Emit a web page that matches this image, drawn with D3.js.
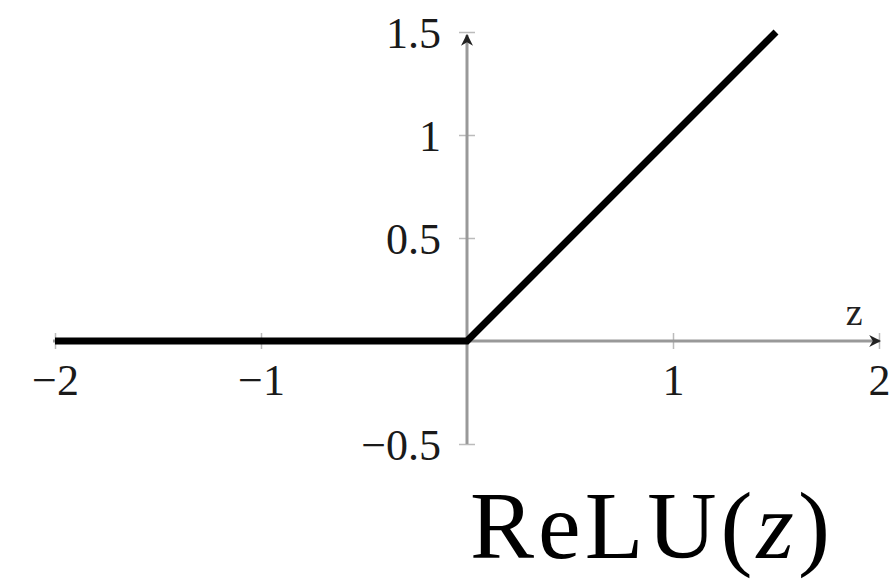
<!DOCTYPE html>
<html>
<head>
<meta charset="utf-8">
<script src="https://cdn.jsdelivr.net/npm/d3@7"></script>
<style>
  body { margin: 0; background: #fff; }
  svg { display: block; }
</style>
</head>
<body>
<svg width="896" height="580"></svg>
<script>
// values
let xTicks = [-2, -1, 1, 2]
let yTicks = [-0.5, 0.5, 1, 1.5]
let reluZ = [-2, 0, 1.5]
let reluY = [0, 0, 1.5]

let width = 896
let height = 580

let xScale = d3.scaleLinear()
  .domain([-2, 2])
  .range([55, 879])

let yScale = d3.scaleLinear()
  .domain([-0.5, 1.5])
  .range([444, 32])

let svg = d3.select('svg')
let fmt = d3.format('')

// arrow head
svg.append('defs').append('marker')
  .attr('id', 'arrow')
  .attr('viewBox', '0 0 10 10')
  .attr('refX', 9)
  .attr('refY', 5)
  .attr('markerWidth', 4)
  .attr('markerHeight', 4)
  .attr('markerUnits', 'strokeWidth')
  .attr('orient', 'auto')
  .append('path')
  .attr('d', 'M0,0 L10,5 L0,10 L3,5 Z')
  .attr('fill', '#222')

// x axis
let xAxis = d3.axisBottom(xScale)
  .tickValues(xTicks)
  .tickFormat(fmt)

let gx = svg.append('g')
  .attr('transform', 'translate(' + [0, yScale(0)] + ')')
  .call(xAxis)
gx.select('.domain').remove()
gx.selectAll('.tick line')
  .attr('y1', -8).attr('y2', 8)
  .attr('stroke', '#bbb').attr('stroke-width', 1.5)
gx.selectAll('.tick text')
  .attr('y', 54).attr('dy', 0)
  .attr('font-family', '"Liberation Serif", serif')
  .attr('font-size', 44)
  .attr('fill', '#1a1a1a')

svg.append('line')
  .attr('x1', xScale(-2) - 2).attr('x2', xScale(2) + 1)
  .attr('y1', yScale(0)).attr('y2', yScale(0))
  .attr('stroke', '#999').attr('stroke-width', 3)
  .attr('marker-end', 'url(#arrow)')

// y axis
let yAxis = d3.axisLeft(yScale)
  .tickValues(yTicks)
  .tickFormat(fmt)

let gy = svg.append('g')
  .attr('transform', 'translate(' + [xScale(0), 0] + ')')
  .call(yAxis)
gy.select('.domain').remove()
gy.selectAll('.tick line')
  .attr('x1', -8).attr('x2', 8)
  .attr('stroke', '#bbb').attr('stroke-width', 1.5)
gy.selectAll('.tick text')
  .attr('x', -26).attr('dy', '0.35em')
  .attr('font-family', '"Liberation Serif", serif')
  .attr('font-size', 44)
  .attr('fill', '#1a1a1a')

svg.append('line')
  .attr('x1', xScale(0)).attr('x2', xScale(0))
  .attr('y1', yScale(-0.5)).attr('y2', yScale(1.5) + 3)
  .attr('stroke', '#999').attr('stroke-width', 3)
  .attr('marker-end', 'url(#arrow)')

// axis name
svg.append('text')
  .attr('x', xScale(1.88))
  .attr('y', yScale(0) - 16)
  .attr('text-anchor', 'middle')
  .attr('font-family', '"Liberation Serif", serif')
  .attr('font-size', 38)
  .attr('fill', '#222')
  .text('z')

// ReLU line
let relu = reluZ.map((z, i) => ({ z: z, y: reluY[i] }))
let line = d3.line()
  .x(d => xScale(d.z))
  .y(d => yScale(d.y))

svg.append('path')
  .datum(relu)
  .attr('d', line)
  .attr('fill', 'none')
  .attr('stroke', '#000')
  .attr('stroke-width', 7)
  .attr('stroke-linejoin', 'miter')

// title
let title = svg.append('text')
  .attr('x', 470)
  .attr('y', 558)
  .attr('font-family', '"Liberation Serif", serif')
  .attr('font-size', 96)
  .attr('letter-spacing', 4)
  .attr('fill', '#000')
title.append('tspan').text('ReLU(')
title.append('tspan').attr('font-style', 'italic').text('z')
title.append('tspan').text(')')
</script>
</body>
</html>
